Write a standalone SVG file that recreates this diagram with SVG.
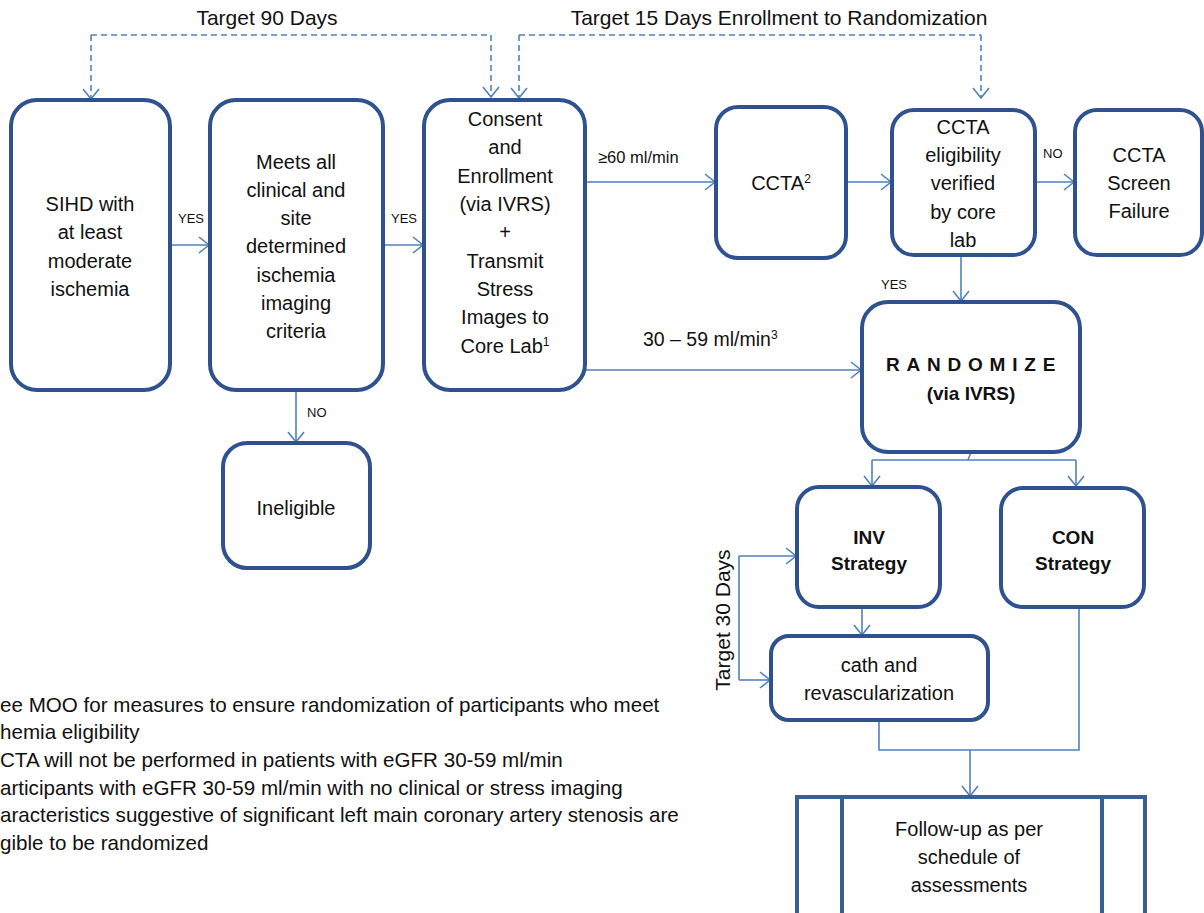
<svg xmlns="http://www.w3.org/2000/svg" width="1204" height="913" viewBox="0 0 1204 913">
<defs>
<marker id="arr" markerUnits="userSpaceOnUse" markerWidth="14" markerHeight="20" refX="12" refY="10" orient="auto">
<path d="M2,2 L12,10 L2,18" fill="none" stroke="#4F81BD" stroke-width="1.6"/>
</marker>
<style>
.box{fill:#fff;stroke:#2F528F;stroke-width:4}
.t{font-family:"Liberation Sans",Arial,sans-serif;font-size:20px;fill:#111;text-anchor:middle}
.b{font-weight:bold;font-size:19px}
.lab{font-family:"Liberation Sans",Arial,sans-serif;font-size:13px;fill:#111}
.mid{font-family:"Liberation Sans",Arial,sans-serif;font-size:18px;fill:#111}
.title{font-family:"Liberation Sans",Arial,sans-serif;font-size:21px;fill:#111;text-anchor:middle}
.note{font-family:"Liberation Sans",Arial,sans-serif;font-size:20.6px;fill:#111}
.c{fill:none;stroke:#4F81BD;stroke-width:1.6}
.ca{fill:none;stroke:#4F81BD;stroke-width:1.6;marker-end:url(#arr)}
.d{fill:none;stroke:#4F81BD;stroke-width:1.6;stroke-dasharray:6 4}
.da{fill:none;stroke:#4F81BD;stroke-width:1.6;stroke-dasharray:6 4;marker-end:url(#arr)}
.sup{font-size:12px}
</style>
</defs>
<rect width="1204" height="913" fill="#fff"/>

<g id="connectors">
<path class="d" d="M91,35 H491"/>
<path class="da" d="M91,35 V99"/>
<path class="da" d="M491,35 V97"/>
<path class="d" d="M519,35 H981"/>
<path class="da" d="M519,35 V98"/>
<path class="da" d="M981,35 V98"/>
<path class="ca" d="M170,245 H209"/>
<path class="ca" d="M383,245 H423"/>
<path class="ca" d="M585,182 H715"/>
<path class="ca" d="M846,182 H891"/>
<path class="ca" d="M1035,182 H1074"/>
<path class="ca" d="M961,255 V301"/>
<path class="ca" d="M585,370 H861"/>
<path class="ca" d="M296,390 V442"/>
<path class="c" d="M971,452 L968,460"/>
<path class="c" d="M872,460 H1076"/>
<path class="ca" d="M872,460 V486"/>
<path class="ca" d="M1076,460 V486"/>
<path class="ca" d="M862,607 V635"/>
<path class="c" d="M739,556 V680"/>
<path class="ca" d="M739,556 H796"/>
<path class="ca" d="M739,680 H770"/>
<path class="c" d="M879,720 V750 H1079 V607"/>
<path class="ca" d="M970,750 V796"/>
</g>

<g id="labels">
<text class="title" x="267" y="25">Target 90 Days</text>
<text class="title" x="779" y="25">Target 15 Days Enrollment to Randomization</text>
<text class="lab" x="178" y="223">YES</text>
<text class="lab" x="391" y="223">YES</text>
<text class="mid" x="598" y="163" style="font-size:16.5px">≥60 ml/min</text>
<text class="lab" x="1043" y="158">NO</text>
<text class="lab" x="881" y="289">YES</text>
<text class="mid" x="643" y="346" style="font-size:19.5px">30 – 59 ml/min<tspan class="sup" baseline-shift="super">3</tspan></text>
<text class="lab" x="307" y="417">NO</text>
<text class="title" transform="translate(730,620) rotate(-90)">Target 30 Days</text>
</g>

<g id="n-sihd">
<rect class="box" x="11" y="100" width="159" height="290" rx="26"/>
<text class="t" x="90" y="211">SIHD with</text>
<text class="t" x="90" y="239">at least</text>
<text class="t" x="90" y="268">moderate</text>
<text class="t" x="90" y="296">ischemia</text>
</g>

<g id="n-meets">
<rect class="box" x="210" y="100" width="173" height="290" rx="26"/>
<text class="t" x="296" y="169">Meets all</text>
<text class="t" x="296" y="197">clinical and</text>
<text class="t" x="296" y="225">site</text>
<text class="t" x="296" y="253">determined</text>
<text class="t" x="296" y="282">ischemia</text>
<text class="t" x="296" y="310">imaging</text>
<text class="t" x="296" y="338">criteria</text>
</g>

<g id="n-consent">
<rect class="box" x="424" y="100" width="161" height="290" rx="26"/>
<text class="t" x="505" y="126">Consent</text>
<text class="t" x="505" y="154">and</text>
<text class="t" x="505" y="183">Enrollment</text>
<text class="t" x="505" y="211">(via IVRS)</text>
<text class="t" x="505" y="239">+</text>
<text class="t" x="505" y="268">Transmit</text>
<text class="t" x="505" y="296">Stress</text>
<text class="t" x="505" y="324">Images to</text>
<text class="t" x="505" y="353">Core Lab<tspan class="sup" baseline-shift="super">1</tspan></text>
</g>

<g id="n-ccta">
<rect class="box" x="716" y="107" width="130" height="151" rx="22"/>
<text class="t" x="781" y="190">CCTA<tspan class="sup" baseline-shift="super">2</tspan></text>
</g>

<g id="n-ccta-elig">
<rect class="box" x="892" y="110" width="143" height="145" rx="22"/>
<text class="t" x="963" y="134">CCTA</text>
<text class="t" x="963" y="162">eligibility</text>
<text class="t" x="963" y="190">verified</text>
<text class="t" x="963" y="219">by core</text>
<text class="t" x="963" y="247">lab</text>
</g>

<g id="n-screen-fail">
<rect class="box" x="1075" y="110" width="127" height="145" rx="22"/>
<text class="t" x="1139" y="162">CCTA</text>
<text class="t" x="1139" y="190">Screen</text>
<text class="t" x="1139" y="218">Failure</text>
</g>

<g id="n-randomize">
<rect class="box" x="862" y="302" width="218" height="150" rx="26"/>
<text class="t b" x="974" y="371" letter-spacing="6.8">RANDOMIZE</text>
<text class="t b" x="971" y="400">(via IVRS)</text>
</g>

<g id="n-ineligible">
<rect class="box" x="223" y="443" width="147" height="125" rx="24"/>
<text class="t" x="296" y="515">Ineligible</text>
</g>

<g id="n-inv">
<rect class="box" x="797" y="487" width="143" height="120" rx="22"/>
<text class="t b" x="869" y="544">INV</text>
<text class="t b" x="869" y="570">Strategy</text>
</g>

<g id="n-con">
<rect class="box" x="1001" y="488" width="143" height="119" rx="22"/>
<text class="t b" x="1073" y="544">CON</text>
<text class="t b" x="1073" y="570">Strategy</text>
</g>

<g id="n-cath">
<rect class="box" x="771" y="636" width="217" height="84" rx="18"/>
<text class="t" x="879" y="672">cath and</text>
<text class="t" x="879" y="700">revascularization</text>
</g>

<g id="n-followup">
<rect x="797" y="797" width="348" height="140" fill="#fff" stroke="#3A5F91" stroke-width="4"/>
<line x1="842" y1="797" x2="842" y2="937" stroke="#3A5F91" stroke-width="4"/>
<line x1="1102" y1="797" x2="1102" y2="937" stroke="#3A5F91" stroke-width="4"/>
<text class="t" x="969" y="836">Follow-up as per</text>
<text class="t" x="969" y="864">schedule of</text>
<text class="t" x="969" y="892">assessments</text>
</g>

<g id="footnotes">
<text class="note" x="0" y="712">ee MOO for measures to ensure randomization of participants who meet</text>
<text class="note" x="0" y="739">hemia eligibility</text>
<text class="note" x="0" y="767">CTA will not be performed in patients with eGFR 30-59 ml/min</text>
<text class="note" x="0" y="795">articipants with eGFR 30-59 ml/min with no clinical or stress imaging</text>
<text class="note" x="0" y="822">aracteristics suggestive of significant left main coronary artery stenosis are</text>
<text class="note" x="0" y="850">gible to be randomized</text>
</g>
</svg>
